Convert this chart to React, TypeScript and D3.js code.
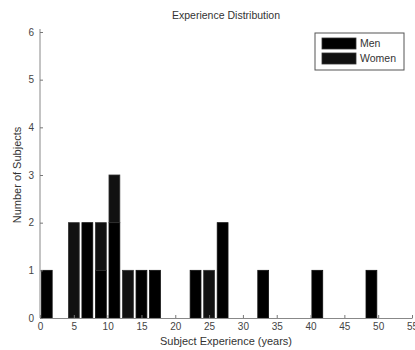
import { useEffect, useRef } from 'react';
import * as d3 from 'd3';

// histogram bin centres (years) and counts
const binCenters = [1, 5, 7, 9, 11, 13, 15, 17, 23, 25, 27, 33, 41, 49];
const menCounts = [1, 0, 2, 1, 2, 0, 1, 1, 1, 0, 2, 1, 1, 1];
const womenCounts = [0, 2, 0, 1, 1, 1, 0, 0, 0, 1, 0, 0, 0, 0];
const xTicks = [0, 5, 10, 15, 20, 25, 30, 35, 40, 45, 50, 55];
const yTicks = [0, 1, 2, 3, 4, 5, 6];
const seriesNames = ['Men', 'Women'];
const seriesColors = ['#000000', '#111111'];

const App = () => {
  const ref = useRef<SVGSVGElement>(null);
  const width = 415;
  const height = 350;
  const margin = { top: 32, right: 3, bottom: 32, left: 40 };

  useEffect(() => {
    const svg = d3.select(ref.current);
    svg.selectAll('*').remove();

    const x = d3.scaleLinear().domain([0, 55]).range([margin.left, width - margin.right]);
    const y = d3.scaleLinear().domain([0, 6]).range([height - margin.bottom, margin.top]);
    const font = 'Liberation Sans, Arial, sans-serif';

    const rows = binCenters.map((c, i) => ({ c, men: menCounts[i], women: womenCounts[i] }));
    const stack = d3.stack<any>().keys(['men', 'women'])(rows);
    const barW = 1.6;

    stack.forEach((layer, li) => {
      svg
        .append('g')
        .selectAll('rect')
        .data(layer.filter((d) => d[1] > d[0]))
        .join('rect')
        .attr('x', (d) => x(d.data.c - barW / 2))
        .attr('width', x(barW) - x(0))
        .attr('y', (d) => y(d[1]))
        .attr('height', (d) => y(d[0]) - y(d[1]))
        .attr('fill', seriesColors[li])
        .attr('stroke', li === 0 ? '#111' : '#333')
        .attr('stroke-width', 0.8);
    });

    // axes
    const xAxis = svg.append('g').attr('transform', `translate(0,${y(0)})`);
    xAxis
      .call(d3.axisBottom(x).tickValues(xTicks).tickSizeInner(-3).tickSizeOuter(0).tickPadding(5))
      .call((g) => g.select('.domain').attr('stroke', '#888'));
    xAxis.selectAll('.tick line').attr('stroke', '#777');
    xAxis.selectAll('text').attr('font-family', font).attr('font-size', 10).attr('fill', '#444');

    const yAxis = svg.append('g').attr('transform', `translate(${margin.left},0)`);
    yAxis
      .call(
        d3
          .axisLeft(y)
          .tickValues(yTicks)
          .tickFormat(d3.format('d'))
          .tickSizeInner(-3)
          .tickSizeOuter(0)
          .tickPadding(6)
      )
      .call((g) => g.select('.domain').attr('stroke', '#888').attr('d', `M0,${y(0)}V${y(6) - 3}`));
    yAxis.selectAll('.tick line').attr('stroke', '#777');
    yAxis.selectAll('text').attr('font-family', font).attr('font-size', 10).attr('fill', '#444');

    // title and axis labels
    const cx = (margin.left + width - margin.right) / 2;
    svg
      .append('text')
      .attr('x', cx)
      .attr('y', 19)
      .attr('text-anchor', 'middle')
      .attr('font-family', font)
      .attr('font-size', 10.5)
      .attr('fill', '#333')
      .text('Experience Distribution');
    svg
      .append('text')
      .attr('x', cx)
      .attr('y', 345)
      .attr('text-anchor', 'middle')
      .attr('font-family', font)
      .attr('font-size', 11)
      .attr('fill', '#333')
      .text('Subject Experience (years)');
    svg
      .append('text')
      .attr('transform', `translate(21,${(y(0) + y(6)) / 2}) rotate(-90)`)
      .attr('text-anchor', 'middle')
      .attr('font-family', font)
      .attr('font-size', 11)
      .attr('fill', '#333')
      .text('Number of Subjects');

    // legend
    const lg = svg.append('g').attr('transform', 'translate(315,33)');
    lg.append('rect')
      .attr('width', 89)
      .attr('height', 37)
      .attr('fill', '#fff')
      .attr('stroke', '#555')
      .attr('stroke-width', 1);
    seriesNames.forEach((name, i) => {
      lg.append('rect')
        .attr('x', 7)
        .attr('y', 5 + i * 15)
        .attr('width', 34)
        .attr('height', 11)
        .attr('fill', seriesColors[i])
        .attr('stroke', '#333')
        .attr('stroke-width', 0.8);
      lg.append('text')
        .attr('x', 45)
        .attr('y', 14 + i * 15)
        .attr('font-family', font)
        .attr('font-size', 10.5)
        .attr('fill', '#333')
        .text(name);
    });
  }, []);

  return (
    <svg
      ref={ref}
      width={width}
      height={height}
      style={{ position: 'absolute', left: 0, top: 0, background: '#fff' }}
    />
  );
};

export default App;
